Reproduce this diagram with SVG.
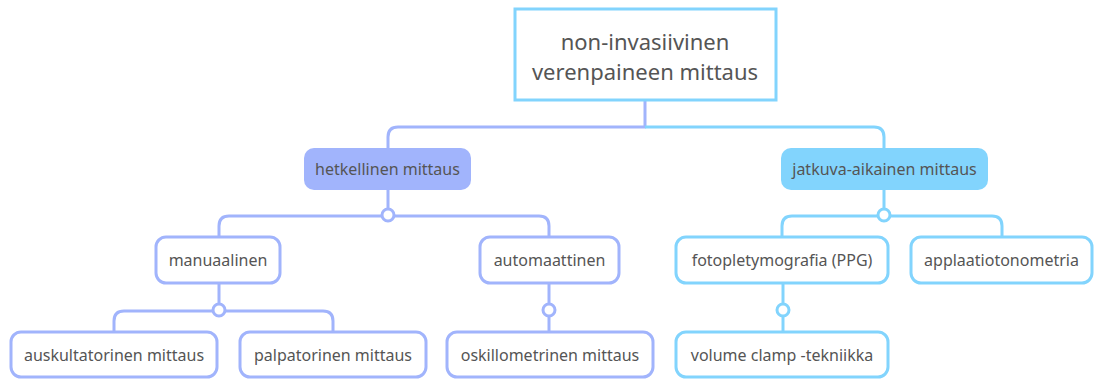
<svg xmlns="http://www.w3.org/2000/svg" width="1095" height="380" viewBox="0 0 1095 380">
<style>
text{font-family:"Noto Sans","Open Sans",sans-serif;fill:#555;text-anchor:middle;dominant-baseline:central}
.t{font-size:16px}
.r{font-size:22px}
.p{stroke:#a1b4fc}
.b{stroke:#82d4fd}
.box{fill:#fff;stroke-width:3}
.ln{fill:none;stroke-width:3;stroke-linejoin:round}
.dot{fill:#fff;stroke-width:3}
</style>
<g id="connectors">
<path class="ln p" d="M645 101 V127 H398 Q388 127 388 137 V148"/>
<path class="ln b" d="M645 127 H874 Q884 127 884 137 V148"/>
<path class="ln p" d="M388 190 V216 M229 216 H539 Q549 216 549 226 V236 M229 216 Q219 216 219 226 V236"/>
<circle class="dot p" cx="388" cy="215" r="6"/>
<path class="ln b" d="M884 190 V216 M792 216 H992 Q1002 216 1002 226 V237 M792 216 Q782 216 782 226 V237"/>
<circle class="dot b" cx="884" cy="215" r="6"/>
<path class="ln p" d="M219 284 V311 M124 311 H323 Q333 311 333 321 V331 M124 311 Q114 311 114 321 V331"/>
<circle class="dot p" cx="219" cy="310" r="6"/>
<path class="ln p" d="M549 284 V331"/>
<circle class="dot p" cx="549" cy="310" r="6"/>
<path class="ln b" d="M783 283 V332"/>
<circle class="dot b" cx="783" cy="310" r="6"/>
</g>
<g id="root">
<rect x="515" y="9" width="261" height="91" fill="#fff" stroke="#82d4fd" stroke-width="3"/>
<text class="r" x="645" y="41">non-invasiivinen</text>
<text class="r" x="645" y="71">verenpaineen mittaus</text>
</g>
<g id="hetkellinen">
<rect x="304" y="148" width="167" height="42" rx="10" fill="#a1b4fc"/>
<text class="t" x="387.5" y="169">hetkellinen mittaus</text>
</g>
<g id="jatkuva">
<rect x="781" y="148" width="207" height="42" rx="10" fill="#82d4fd"/>
<text class="t" x="884.5" y="169">jatkuva-aikainen mittaus</text>
</g>
<g id="manuaalinen">
<rect class="box p" x="156" y="237" width="124" height="46" rx="10"/>
<text class="t" x="218" y="260">manuaalinen</text>
</g>
<g id="automaattinen">
<rect class="box p" x="480" y="237" width="139" height="46" rx="10"/>
<text class="t" x="549.5" y="260">automaattinen</text>
</g>
<g id="auskultatorinen">
<rect class="box p" x="11" y="332" width="206" height="45" rx="10"/>
<text class="t" x="114" y="354.5">auskultatorinen mittaus</text>
</g>
<g id="palpatorinen">
<rect class="box p" x="240" y="332" width="186" height="45" rx="10"/>
<text class="t" x="333" y="354.5">palpatorinen mittaus</text>
</g>
<g id="oskillometrinen">
<rect class="box p" x="447" y="332" width="206" height="45" rx="10"/>
<text class="t" x="550" y="354.5">oskillometrinen mittaus</text>
</g>
<g id="fotopletymografia">
<rect class="box b" x="676" y="237" width="212" height="46" rx="10"/>
<text class="t" x="782" y="260">fotopletymografia (PPG)</text>
</g>
<g id="applaatiotonometria">
<rect class="box b" x="911" y="237" width="181" height="46" rx="10"/>
<text class="t" x="1001.5" y="260">applaatiotonometria</text>
</g>
<g id="volume">
<rect class="box b" x="676" y="332" width="212" height="45" rx="10"/>
<text class="t" x="782" y="354.5">volume clamp -tekniikka</text>
</g>
</svg>
